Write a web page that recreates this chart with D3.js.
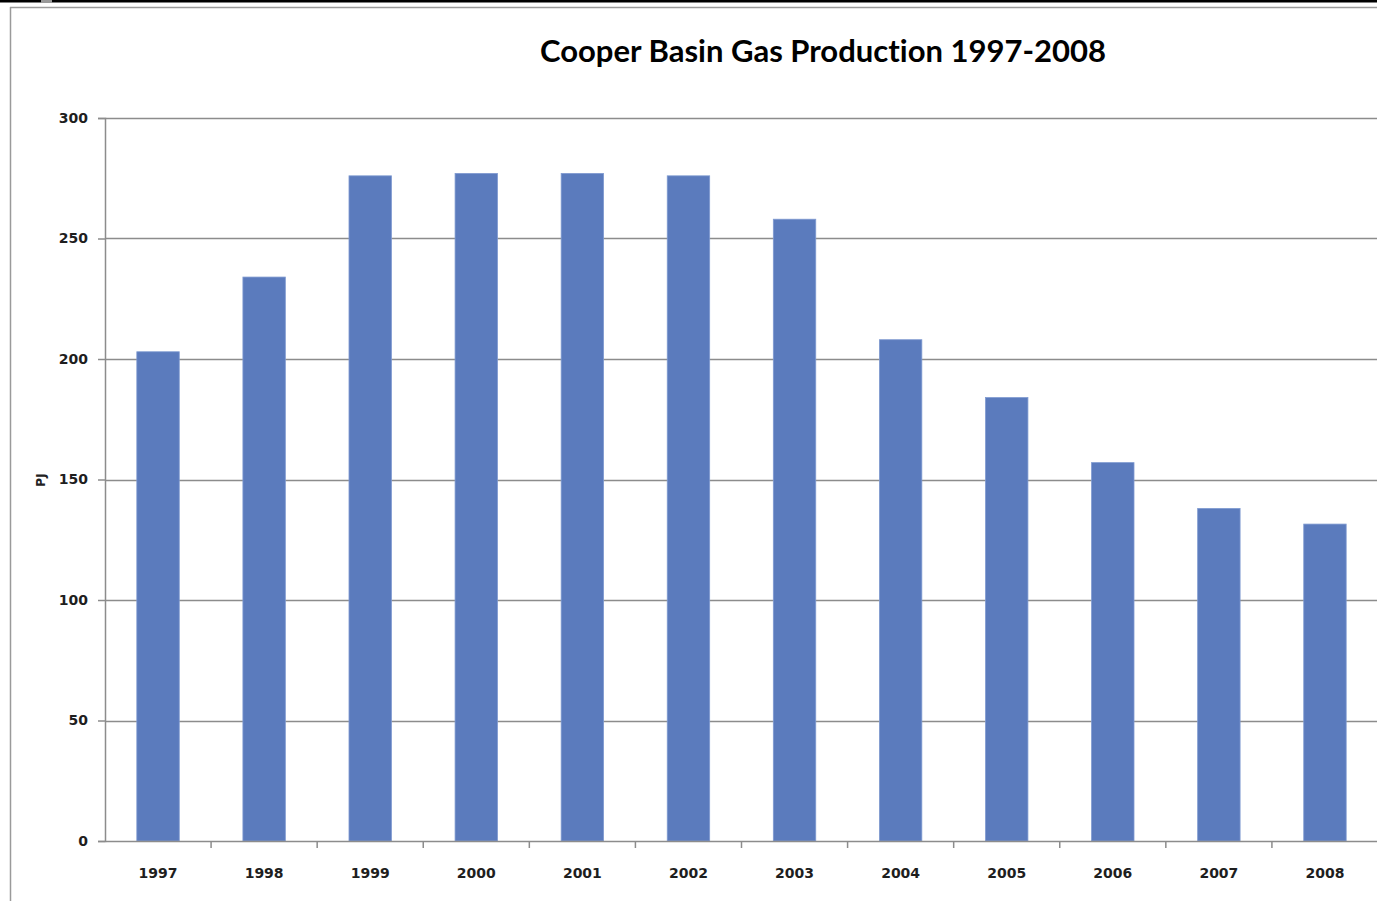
<!DOCTYPE html>
<html>
<head>
<meta charset="utf-8">
<script src="https://cdn.jsdelivr.net/npm/d3@7"></script>
<style>
  html, body { margin: 0; padding: 0; background: #fff; overflow: hidden; }
  svg { display: block; }
  .tick text { font-family: "DejaVu Sans", sans-serif; font-weight: bold; font-size: 14px; fill: #1e1e1e; }
</style>
</head>
<body>
<div id="chart"></div>
<script>
// Cooper Basin gas production (PJ) by year
const years = ["1997", "1998", "1999", "2000", "2001", "2002", "2003", "2004", "2005", "2006", "2007", "2008"];
const production = [203, 234, 276, 277, 277, 276, 258, 208, 184, 157, 138, 131.5];
const yTicks = [0, 50, 100, 150, 200, 250, 300];

const W = 1377, H = 901;
const margin = { top: 118, right: -1, bottom: 60, left: 105 };
const width = W - margin.left - margin.right;
const height = H - margin.top - margin.bottom;

const svg = d3.select("#chart").append("svg")
  .attr("width", W)
  .attr("height", H);

// frame bits around the chart (screenshot edges)
svg.append("rect").attr("x", 0).attr("y", 0).attr("width", W).attr("height", 2.5).attr("fill", "#000");
svg.append("rect").attr("x", 41).attr("y", 0).attr("width", 11).attr("height", 3).attr("fill", "#999");
svg.append("line").attr("x1", 10).attr("x2", W).attr("y1", 7.5).attr("y2", 7.5)
  .attr("stroke", "#9a9a9a").attr("stroke-width", 1.5);
svg.append("line").attr("x1", 10.5).attr("x2", 10.5).attr("y1", 7).attr("y2", H)
  .attr("stroke", "#9a9a9a").attr("stroke-width", 1.5);

// title
svg.append("text")
  .attr("x", 823)
  .attr("y", 62)
  .attr("text-anchor", "middle")
  .attr("font-family", "Lato, 'Open Sans', sans-serif")
  .attr("font-weight", "bold")
  .attr("font-size", 30)
  .attr("textLength", 566)
  .attr("lengthAdjust", "spacingAndGlyphs")
  .style("font-variant-ligatures", "none")
  .attr("fill", "#000")
  .text("Cooper Basin Gas Production 1997-2008");

const g = svg.append("g")
  .attr("transform", `translate(${margin.left},${margin.top})`);

const x = d3.scaleBand()
  .domain(years)
  .range([0, width])
  .paddingInner(0.6)
  .paddingOuter(0.3);

const xTickScale = d3.scaleBand().domain(years).range([0, width]);

const y = d3.scaleLinear()
  .domain([0, 300])
  .range([height, 0]);

// gridlines
g.append("g")
  .selectAll("line")
  .data(yTicks.slice(1))
  .enter()
  .append("line")
  .attr("x1", 0)
  .attr("x2", width)
  .attr("y1", d => Math.round(y(d)) + 0.5)
  .attr("y2", d => Math.round(y(d)) + 0.5)
  .attr("stroke", "#8c8c8c")
  .attr("stroke-width", 1.5);

// bars
g.selectAll(".bar")
  .data(production)
  .enter()
  .append("rect")
  .attr("class", "bar")
  .attr("x", (d, i) => x(years[i]))
  .attr("width", x.bandwidth())
  .attr("y", d => y(d))
  .attr("height", d => height - y(d))
  .attr("fill", "#5b7bbd")
  .attr("stroke", "#7f9ad0")
  .attr("stroke-width", 0.8);

// y axis
const yAxis = d3.axisLeft(y)
  .tickValues(yTicks)
  .tickSize(7)
  .tickPadding(10);
const yg = g.append("g").call(yAxis);
yg.select(".domain").attr("stroke", "#8c8c8c").attr("stroke-width", 1.5);
yg.selectAll(".tick line").attr("stroke", "#8c8c8c").attr("stroke-width", 1.5);

// x axis: ticks at category boundaries
const xg = g.append("g")
  .attr("transform", `translate(0,${height})`)
  .call(d3.axisBottom(x).tickSize(0).tickPadding(27));
xg.select(".domain").attr("stroke", "#8c8c8c").attr("stroke-width", 1.5);

xg.selectAll(".boundary")
  .data(years.slice(1))
  .enter()
  .append("line")
  .attr("x1", d => xTickScale(d))
  .attr("x2", d => xTickScale(d))
  .attr("y1", 0)
  .attr("y2", 7)
  .attr("stroke", "#8c8c8c")
  .attr("stroke-width", 1.5);

// y axis label
svg.append("text")
  .attr("transform", `translate(45, 480) rotate(-90)`)
  .attr("text-anchor", "middle")
  .attr("font-family", "DejaVu Sans, sans-serif")
  .attr("font-weight", "bold")
  .attr("font-size", 12)
  .attr("fill", "#222")
  .text("PJ");
</script>
</body>
</html>
